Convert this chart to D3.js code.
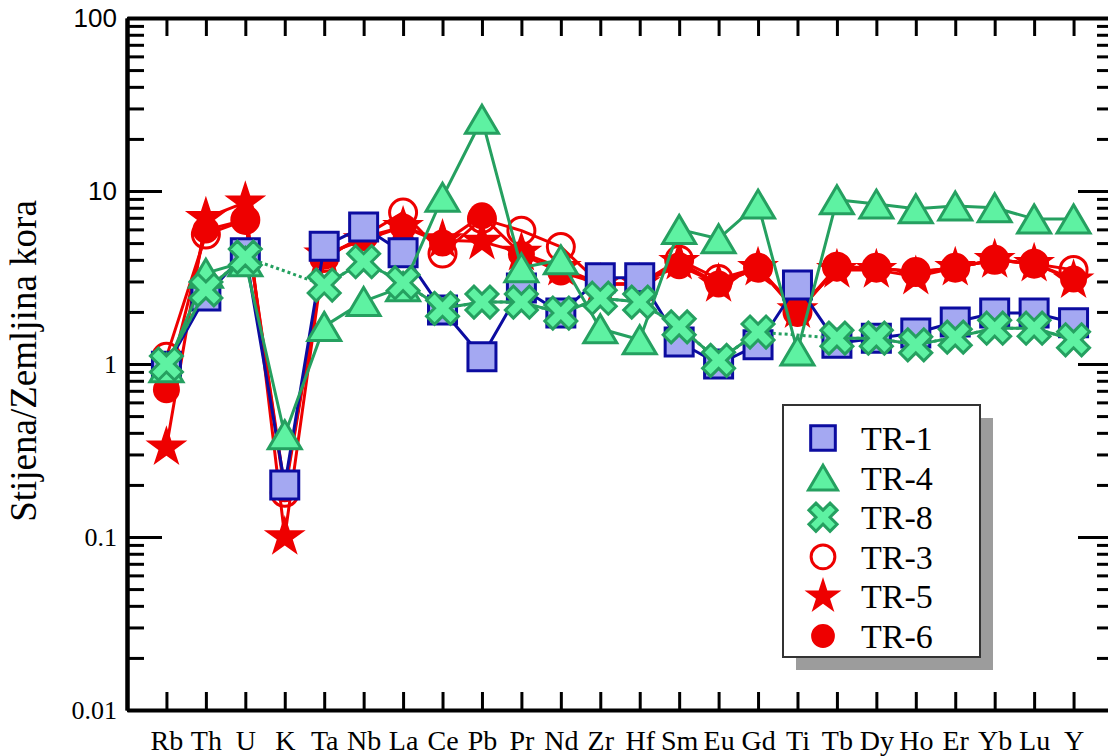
<!DOCTYPE html>
<html>
<head>
<meta charset="utf-8">
<script src="https://cdn.jsdelivr.net/npm/d3@7"></script>
<style>
  body { margin: 0; background: #fff; }
  svg { display: block; }
</style>
</head>
<body>
<svg id="chart" width="1108" height="756"></svg>
<script>
// element order on the x axis
var categories = ["Rb","Th","U","K","Ta","Nb","La","Ce","Pb","Pr","Nd","Zr","Hf","Sm","Eu","Gd","Ti","Tb","Dy","Ho","Er","Yb","Lu","Y"];

// rock / crust values
var tr1 = [0.97, 2.47, 4.4, 0.2, 4.8, 6.2, 4.4, 2.05, 1.1, 2.75, 1.97, 3.15, 3.15, 1.34, 1.0, 1.29, 2.86, 1.32, 1.41, 1.51, 1.75, 1.97, 1.97, 1.73];
var tr4 = [0.95, 3.35, 3.9, 0.39, 1.65, 2.3, 2.8, 9.2, 26, 3.6, 4.0, 1.6, 1.38, 6.0, 5.3, 8.4, 1.19, 8.9, 8.4, 7.9, 8.2, 8.0, 6.9, 6.9];
var tr8 = [1.0, 2.68, 4.15, null, 2.86, 3.9, 2.95, 2.1, 2.28, 2.28, 1.97, 2.4, 2.28, 1.64, 1.05, 1.53, null, 1.41, 1.41, 1.29, 1.43, 1.61, 1.61, 1.38];
var tr3 = [1.1, 5.6, 6.8, 0.18, 4.1, 5.5, 7.5, 4.35, 6.9, 5.9, 4.75, 2.9, 2.9, 4.0, 3.1, 3.6, 2.0, 3.65, 3.6, 3.4, 3.6, 4.0, 3.8, 3.5];
var tr5 = [0.33, 7.0, 8.6, 0.1, 4.3, 5.2, 6.2, 5.2, 5.1, 4.4, 3.6, 2.9, 2.9, 3.9, 2.9, 3.6, 2.05, 3.5, 3.5, 3.2, 3.6, 4.0, 3.8, 3.05];
var tr6 = [0.71, 5.95, 6.8, 0.19, 4.2, 5.4, 6.2, 5.0, 7.2, 4.3, 3.4, 2.9, 2.9, 3.7, 2.9, 3.6, 1.97, 3.6, 3.6, 3.4, 3.6, 4.0, 3.8, 3.1];

var yTickLabels = ["0.01", "0.1", "1", "10", "100"];
var legendNames = ["TR-1", "TR-4", "TR-8", "TR-3", "TR-5", "TR-6"];

var blue = "#0c0ca0", blueFill = "#a4a8f2";
var green = "#25a060", greenFill = "#5ef2a2";
var red = "#ee0000";
var serif = "'Liberation Serif', 'Times New Roman', serif";

var svg = d3.select("#chart");
svg.append("rect").attr("width", 1108).attr("height", 756).attr("fill", "#fff");

var plotLeft = 127, plotRight = 1113, plotTop = 18, plotBottom = 710;

var x = d3.scalePoint()
  .domain(categories)
  .range([plotLeft, plotRight])
  .padding(1);

var y = d3.scaleLog()
  .domain([0.01, 100])
  .range([plotBottom, plotTop]);

var allTicks = y.ticks();
var majorTicks = allTicks.filter(function(d) { return Math.abs(Math.log10(d) - Math.round(Math.log10(d))) < 1e-9; });
var minorTicks = allTicks.filter(function(d) { return majorTicks.indexOf(d) < 0; });

function styleAxis(g) {
  g.select(".domain").attr("stroke", "#000").attr("stroke-width", 4);
  g.selectAll(".tick line").attr("stroke", "#000").attr("stroke-width", 3);
}

// left axis
var gl = svg.append("g").attr("transform", "translate(" + plotLeft + ",0)");
gl.call(d3.axisLeft(y).tickValues(minorTicks).tickSizeInner(-17).tickSizeOuter(0).tickFormat(""));
gl.call(styleAxis);
var glm = svg.append("g").attr("transform", "translate(" + plotLeft + ",0)");
glm.call(d3.axisLeft(y).tickValues(majorTicks).tickSizeInner(-35).tickSizeOuter(0).tickPadding(10)
  .tickFormat(function(d, i) { return yTickLabels[i]; }));
glm.call(styleAxis);
glm.selectAll(".tick text")
  .attr("fill", "#000")
  .style("font-size", "26px")
  .style("font-family", function(d) { return d >= 10 ? "'Liberation Sans', Arial, sans-serif" : serif; });

// right axis
var gr = svg.append("g").attr("transform", "translate(" + plotRight + ",0)");
gr.call(d3.axisRight(y).tickValues(minorTicks).tickSizeInner(-16).tickSizeOuter(0).tickFormat(""));
gr.call(styleAxis);
var grm = svg.append("g").attr("transform", "translate(" + plotRight + ",0)");
grm.call(d3.axisRight(y).tickValues(majorTicks).tickSizeInner(-35).tickSizeOuter(0).tickFormat(""));
grm.call(styleAxis);

// bottom + top axes
var gb = svg.append("g").attr("transform", "translate(0," + plotBottom + ")");
gb.call(d3.axisBottom(x).tickSizeInner(-18).tickSizeOuter(0).tickPadding(20));
gb.call(styleAxis);
gb.selectAll(".tick text")
  .attr("fill", "#000")
  .style("font-size", "28px")
  .style("font-family", serif);

var gt = svg.append("g").attr("transform", "translate(0," + plotTop + ")");
gt.call(d3.axisTop(x).tickSizeInner(-18).tickSizeOuter(0).tickFormat(""));
gt.call(styleAxis);

// y axis title
svg.append("text")
  .attr("transform", "translate(36,361) rotate(-90)")
  .attr("text-anchor", "middle")
  .style("font-size", "37px")
  .style("font-family", serif)
  .text("Stijena/Zemljina kora");

// marker shapes
function markerPath(kind, big) {
  var k = big ? 1 : 0.88;
  if (kind == "square") return d3.symbol(d3.symbolSquare, 784 * k * k)();
  if (kind == "triangle") return "M0," + (-14 * k) + "L" + (16.5 * k) + "," + (14 * k) + "L" + (-16.5 * k) + "," + (14 * k) + "Z";
  if (kind == "cross") return d3.symbol(d3.symbolCross, 640 * k * k)();
  if (kind == "star") return d3.symbol(d3.symbolStar, 545 * k * k)();
  return d3.symbol(d3.symbolCircle, Math.PI * 13.5 * 13.5 * k * k)();
}

var series = [
  {name: "TR-3", values: tr3, line: red, shape: "circle", stroke: red, fill: "none"},
  {name: "TR-5", values: tr5, line: red, shape: "star", stroke: "none", fill: red},
  {name: "TR-6", values: tr6, line: red, shape: "circle", stroke: "none", fill: red},
  {name: "TR-1", values: tr1, line: blue, shape: "square", stroke: blue, fill: blueFill},
  {name: "TR-4", values: tr4, line: green, shape: "triangle", stroke: green, fill: greenFill},
  {name: "TR-8", values: tr8, line: green, shape: "cross", stroke: green, fill: greenFill}
];

var line = d3.line()
  .defined(function(d) { return d.v != null; })
  .x(function(d) { return x(d.c); })
  .y(function(d) { return y(d.v); });

series.forEach(function(s) {
  var pts = categories.map(function(c, i) { return {c: c, v: s.values[i]}; });
  var g = svg.append("g").attr("class", "series");
  if (pts.some(function(d) { return d.v == null; })) {
    // dotted bridge over missing elements
    g.append("path")
      .attr("d", line(pts.filter(function(d) { return d.v != null; })))
      .attr("fill", "none")
      .attr("stroke", s.line)
      .attr("stroke-width", 3)
      .attr("stroke-dasharray", "3,3");
  }
  g.append("path")
    .attr("d", line(pts))
    .attr("fill", "none")
    .attr("stroke", s.line)
    .attr("stroke-width", 3)
    .attr("stroke-linejoin", "round");
  g.selectAll("path.mark")
    .data(pts.filter(function(d) { return d.v != null; }))
    .enter().append("path")
    .attr("class", "mark")
    .attr("transform", function(d) {
      return "translate(" + x(d.c) + "," + y(d.v) + ")" + (s.shape == "cross" ? " rotate(45)" : "");
    })
    .attr("d", markerPath(s.shape, true))
    .attr("fill", s.fill)
    .attr("stroke", s.stroke)
    .attr("stroke-width", 3);
});

// legend
var lx = 783, ly = 405, lw = 197, lh = 252;
var legend = svg.append("g");
legend.append("rect")
  .attr("x", lx + 13).attr("y", ly + 13).attr("width", lw).attr("height", lh)
  .attr("fill", "#9c9c9c");
legend.append("rect")
  .attr("x", lx).attr("y", ly).attr("width", lw).attr("height", lh)
  .attr("fill", "#fff").attr("stroke", "#333").attr("stroke-width", 2);

var legendSeries = legendNames.map(function(n) {
  return series.filter(function(s) { return s.name == n; })[0];
});

var item = legend.selectAll("g.item")
  .data(legendSeries)
  .enter().append("g")
  .attr("class", "item")
  .attr("transform", function(d, i) { return "translate(" + (lx + 40) + "," + (ly + 33 + i * 39.6) + ")"; });

item.append("path")
  .attr("transform", function(d) { return d.shape == "cross" ? "rotate(45)" : null; })
  .attr("d", function(d) { return markerPath(d.shape, false); })
  .attr("fill", function(d) { return d.fill == "none" ? "#fff" : d.fill; })
  .attr("stroke", function(d) { return d.stroke; })
  .attr("stroke-width", 3);

item.append("text")
  .attr("x", 38)
  .attr("dy", "0.35em")
  .style("font-size", "34px")
  .style("font-family", serif)
  .text(function(d) { return d.name; });
</script>
</body>
</html>
